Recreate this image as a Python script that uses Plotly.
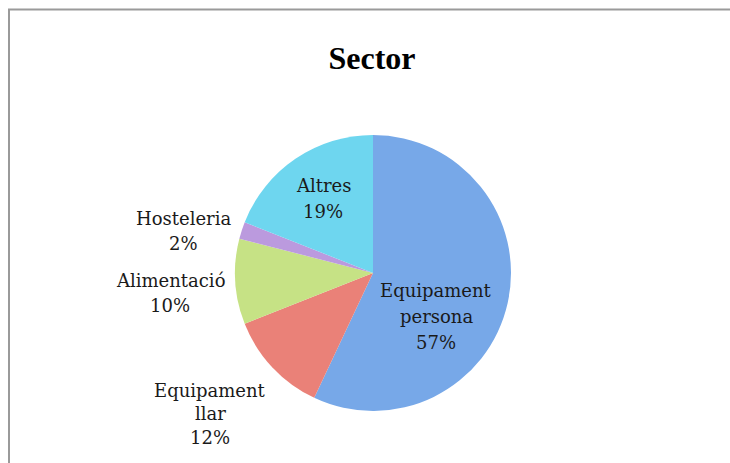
import plotly.graph_objects as go

categories = ["Equipament persona", "Equipament llar", "Alimentació", "Hosteleria", "Altres"]
values = [57, 12, 10, 2, 19]
label_lines = [["Equipament", "persona", "57%"], ["Equipament", "llar", "12%"],
               ["Alimentació", "10%"], ["Hosteleria", "2%"], ["Altres", "19%"]]
colors = ["#77a8e8", "#ea8178", "#c6e285", "#bb9ade", "#6ed6ef"]

W, H = 730, 463
cx, cy, r = 373, 273, 138

fig = go.Figure(go.Pie(
    labels=categories, values=values, sort=False, direction="clockwise", rotation=0,
    marker=dict(colors=colors, line=dict(width=0)),
    textinfo="none", hoverinfo="label+percent", showlegend=False,
    domain=dict(x=[(cx - r) / W, (cx + r) / W], y=[1 - (cy + r) / H, 1 - (cy - r) / H]),
))

# label first-line centre (pixels) and line spacing
label_pos = [(436, 290, 26), (210, 390, 23.5), (170, 280, 25), (183, 218, 25), (323, 186, 25)]
font = dict(family="DejaVu Serif", size=18, color="#1a1a1a")
for lines, (x, y, dy) in zip(label_lines, label_pos):
    for i, ln in enumerate(lines):
        fig.add_annotation(x=x / W, y=1 - (y + i * dy) / H, xref="paper", yref="paper", text=ln,
                           showarrow=False, font=font, align="center", xanchor="center", yanchor="middle")

# chart frame
fig.add_shape(type="rect", xref="paper", yref="paper", x0=9 / W, x1=1.05, y0=-0.05, y1=1 - 9.5 / H,
              line=dict(color="#9a9a9a", width=2), fillcolor="rgba(0,0,0,0)")

fig.update_layout(
    width=W, height=H, margin=dict(l=0, r=0, t=0, b=0),
    paper_bgcolor="white", plot_bgcolor="white",
    title=dict(text="<b>Sector</b>", x=372 / W, xanchor="center", y=1 - 58 / H, yanchor="middle",
               font=dict(family="Liberation Serif", size=32, color="black")),
)

fig.write_html("out.html", config={"displayModeBar": False},
               post_script="document.body.style.margin='0px';document.body.style.overflow='hidden';")
